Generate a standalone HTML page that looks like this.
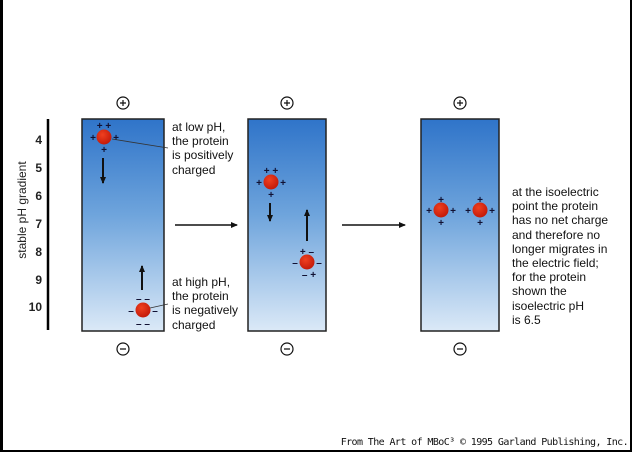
<!DOCTYPE html><html><head><style>
body{margin:0;width:632px;height:452px;overflow:hidden;background:#fff}
.c{position:absolute;inset:0;border-left:3px solid #000;border-right:2px solid #000;border-bottom:2px solid #000;box-sizing:border-box;width:632px;height:452px}
.t{position:absolute;font:12px/14.2px "Liberation Sans",sans-serif;color:#111}
</style></head><body><div class="c"></div>
<svg width="632" height="452" style="position:absolute;left:0;top:0" font-family="Liberation Sans, sans-serif">
<defs><linearGradient id="g" x1="0" y1="0" x2="0" y2="1"><stop offset="0" stop-color="#2f74c9"/><stop offset=".45" stop-color="#6ea4dc"/><stop offset="1" stop-color="#dbe9f7"/></linearGradient>
<radialGradient id="b" cx=".4" cy=".35" r=".7"><stop offset="0" stop-color="#f04020"/><stop offset="1" stop-color="#c01808"/></radialGradient>
<marker id="a" markerWidth="8" markerHeight="8" refX="6" refY="4" orient="auto" markerUnits="userSpaceOnUse"><path d="M0,1 L7,4 L0,7z" fill="#111"/></marker></defs>
<rect x="82" y="119" width="82" height="212" fill="url(#g)" stroke="#222" stroke-width="1.5"/>
<rect x="248" y="119" width="78" height="212" fill="url(#g)" stroke="#222" stroke-width="1.5"/>
<rect x="421" y="119" width="78" height="212" fill="url(#g)" stroke="#222" stroke-width="1.5"/>
<line x1="48" y1="119" x2="48" y2="330" stroke="#000" stroke-width="2.5"/>
<g font-size="12" font-weight="bold" text-anchor="end" fill="#222"><text x="42" y="144">4</text><text x="42" y="172">5</text><text x="42" y="200">6</text><text x="42" y="228">7</text><text x="42" y="256">8</text><text x="42" y="284">9</text><text x="42" y="311">10</text></g>
<text transform="translate(26,210) rotate(-90)" font-size="12" text-anchor="middle" fill="#222">stable pH gradient</text>
<g fill="none" stroke="#111" stroke-width="1.2"><circle cx="123" cy="103" r="6"/><circle cx="287" cy="103" r="6"/><circle cx="460" cy="103" r="6"/><circle cx="123" cy="349" r="6"/><circle cx="287" cy="349" r="6"/><circle cx="460" cy="349" r="6"/></g>
<g stroke="#111" stroke-width="1.2"><path d="M120,103h6M123,100v6M284,103h6M287,100v6M457,103h6M460,100v6M120,349h6M284,349h6M457,349h6"/></g>
<g fill="url(#b)"><circle cx="104" cy="137" r="7.5"/><circle cx="143" cy="310" r="7.5"/><circle cx="271" cy="182" r="7.5"/><circle cx="307" cy="262" r="7.5"/><circle cx="441" cy="210" r="7.5"/><circle cx="480" cy="210" r="7.5"/></g>
<g font-size="10" fill="#113" text-anchor="middle" font-weight="bold">
<text x="104" y="129">+ +</text><text x="93" y="141">+</text><text x="116" y="141">+</text><text x="104" y="153">+</text>
<text x="143" y="302">– –</text><text x="131" y="314">–</text><text x="155" y="314">–</text><text x="143" y="327">– –</text>
<text x="271" y="174">+ +</text><text x="259" y="186">+</text><text x="283" y="186">+</text><text x="271" y="198">+</text>
<text x="307" y="255">+ –</text><text x="295" y="266">–</text><text x="319" y="266">–</text><text x="309" y="278">– +</text>
<text x="441" y="203">+</text><text x="429" y="214">+</text><text x="453" y="214">+</text><text x="441" y="226">+</text>
<text x="480" y="203">+</text><text x="468" y="214">+</text><text x="492" y="214">+</text><text x="480" y="226">+</text></g>
<g stroke="#111" stroke-width="2" marker-end="url(#a)"><line x1="103" y1="158" x2="103" y2="183"/><line x1="142" y1="290" x2="142" y2="266"/><line x1="270" y1="203" x2="270" y2="221"/><line x1="307" y1="241" x2="307" y2="210"/><line x1="175" y1="225" x2="237" y2="225" stroke-width="1.6"/><line x1="342" y1="225" x2="405" y2="225" stroke-width="1.6"/></g>
<g stroke="#333" stroke-width="0.8"><line x1="112" y1="139" x2="168" y2="148"/><line x1="150" y1="308" x2="168" y2="304"/></g>
</svg>
<div class="t" style="left:172;top:120px;left:172px">at low pH,<br>the protein<br>is positively<br>charged</div>
<div class="t" style="left:172px;top:275px">at high pH,<br>the protein<br>is negatively<br>charged</div>
<div class="t" style="left:512px;top:185px">at the isoelectric<br>point the protein<br>has no net charge<br>and therefore no<br>longer migrates in<br>the electric field;<br>for the protein<br>shown the<br>isoelectric pH<br>is 6.5</div>
<div class="t" style="right:4px;top:437px;font:10px 'DejaVu Sans Mono',monospace;letter-spacing:-0.6px">From The Art of MBoC³ © 1995 Garland Publishing, Inc.</div>
</body></html>
